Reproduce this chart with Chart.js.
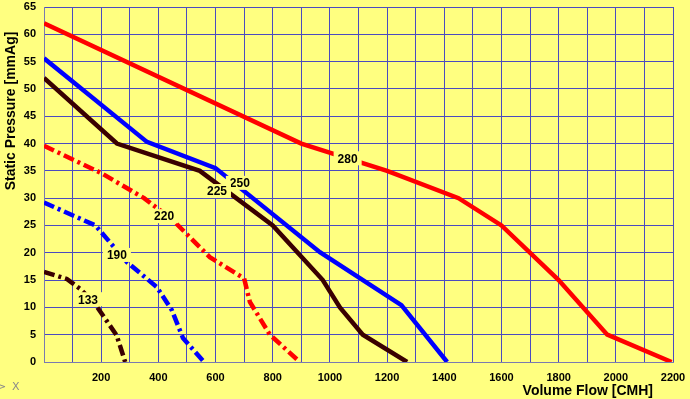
<!DOCTYPE html>
<html>
<head>
<meta charset="utf-8">
<script src="https://cdn.jsdelivr.net/npm/chart.js@4/dist/chart.umd.min.js"></script>
<style>
  html, body { margin: 0; padding: 0; background: #ffff80; }
  canvas { display: block; }
</style>
</head>
<body>
<canvas id="fan-chart" width="690" height="399"></canvas>
<script>
'use strict';

// ------- Curve data (flow in CMH, pressure in mmAg) ------- //
const flow280 = [0, 900, 1200, 1450, 1600, 1800, 1970, 2195];
const pres280 = [62, 40, 35, 30, 25, 15, 5, 0];

const flow250 = [0, 360, 600, 965, 1250, 1410];
const pres250 = [55.6, 40.3, 35.5, 20.1, 10.4, 0];

const flow225 = [0, 255, 545, 800, 975, 1035, 1115, 1270];
const pres225 = [52, 40, 35, 25, 15, 10, 5, 0];

const flow220 = [0, 200, 350, 450, 580, 700, 720, 790, 895];
const pres220 = [39.6, 34.6, 30, 26, 19.2, 15.3, 11, 5, 0];

const flow190 = [0, 180, 290, 395, 447, 486, 560];
const pres190 = [29.2, 25, 18.3, 13.7, 9.5, 4.4, 0];

const flow133 = [0, 80, 126, 176, 254, 284];
const pres133 = [16.5, 15.2, 13.4, 10.8, 4.9, 0];

// label text and where it sits on the curve
const curveLabels = ['280', '250', '225', '220', '190', '133'];
const labelFlow = [1062, 685, 605, 420, 255, 154];
const labelPres = [37.3, 32.8, 31.3, 26.7, 19.6, 11.5];

const toPoints = (xs, ys) => xs.map((x, i) => ({ x: x, y: ys[i] }));

const RED = '#ff0000';
const BLUE = '#0000ff';
const BROWN = '#3a0000';
const DASH_DOT = [11, 4, 3, 4];

const series = [
  { label: '280', data: toPoints(flow280, pres280), color: RED, dash: [] },
  { label: '250', data: toPoints(flow250, pres250), color: BLUE, dash: [] },
  { label: '225', data: toPoints(flow225, pres225), color: BROWN, dash: [] },
  { label: '220', data: toPoints(flow220, pres220), color: RED, dash: DASH_DOT },
  { label: '190', data: toPoints(flow190, pres190), color: BLUE, dash: DASH_DOT },
  { label: '133', data: toPoints(flow133, pres133), color: BROWN, dash: DASH_DOT },
];

// draws the curve numbers with a yellow patch that breaks the line
const curveLabelPlugin = {
  id: 'curveLabels',
  afterDatasetsDraw(chart) {
    const { ctx, scales } = chart;
    ctx.save();
    ctx.font = 'bold 12px "Liberation Sans", Arial, sans-serif';
    ctx.textAlign = 'center';
    ctx.textBaseline = 'middle';
    curveLabels.forEach((txt, i) => {
      const px = scales.x.getPixelForValue(labelFlow[i]);
      const py = scales.y.getPixelForValue(labelPres[i]);
      const w = ctx.measureText(txt).width;
      ctx.fillStyle = '#ffff80';
      ctx.fillRect(px - w / 2 - 4, py - 7, w + 8, 14);
      ctx.fillStyle = '#000000';
      ctx.fillText(txt, px, py + 1);
    });
    ctx.restore();
  },
};

// axis titles and the little marker in the corner
const axisTitlePlugin = {
  id: 'axisTitles',
  afterDraw(chart) {
    const { ctx } = chart;
    ctx.save();
    ctx.fillStyle = '#000000';
    ctx.font = 'bold 14px "Liberation Sans", Arial, sans-serif';
    ctx.textAlign = 'right';
    ctx.textBaseline = 'middle';
    ctx.fillText('Volume Flow [CMH]', 653, 391);

    ctx.translate(11, 111);
    ctx.rotate(-Math.PI / 2);
    ctx.textAlign = 'center';
    ctx.fillText('Static Pressure [mmAg]', 0, 0);
    ctx.restore();

    ctx.save();
    ctx.fillStyle = '#8a8a8a';
    ctx.font = '11px "DejaVu Sans", sans-serif';
    ctx.textBaseline = 'middle';
    ctx.fillText('>', -3, 387);
    ctx.fillText('X', 12, 387);
    ctx.restore();
  },
};

const canvas = document.getElementById('fan-chart');

new Chart(canvas, {
  type: 'line',
  data: {
    datasets: series.map((s) => ({
      label: s.label,
      data: s.data,
      borderColor: s.color,
      backgroundColor: s.color,
      borderWidth: 4.5,
      borderDash: s.dash,
      borderCapStyle: 'butt',
      pointRadius: 0,
      tension: 0,
      fill: false,
    })),
  },
  options: {
    responsive: false,
    animation: false,
    devicePixelRatio: 1,
    layout: {
      padding: { top: 7, right: 17, left: 0, bottom: 0 },
    },
    plugins: {
      legend: { display: false },
      tooltip: { enabled: false },
    },
    scales: {
      x: {
        type: 'linear',
        min: 0,
        max: 2200,
        afterFit: (scale) => {
          scale.height = 37;
          scale.paddingLeft = 0;
          scale.paddingRight = 0;
        },
        grid: { color: '#4b4bc0', lineWidth: 1, drawTicks: false },
        border: { color: '#7a7ab0' },
        ticks: {
          stepSize: 100,
          autoSkip: false,
          maxRotation: 0,
          padding: 9,
          color: '#000000',
          font: { family: '"Liberation Sans", Arial, sans-serif', size: 11, weight: 'bold' },
          callback: (v) => (v > 0 && v % 200 === 0 ? String(v) : ''),
        },
      },
      y: {
        min: 0,
        max: 65,
        afterFit: (scale) => {
          scale.width = 44;
          scale.paddingTop = 0;
          scale.paddingBottom = 0;
        },
        grid: { color: '#4b4bc0', lineWidth: 1, drawTicks: false },
        border: { color: '#7a7ab0' },
        ticks: {
          stepSize: 5,
          padding: 8,
          color: '#000000',
          font: { family: '"Liberation Sans", Arial, sans-serif', size: 11, weight: 'bold' },
        },
      },
    },
  },
  plugins: [curveLabelPlugin, axisTitlePlugin],
});
</script>
</body>
</html>
